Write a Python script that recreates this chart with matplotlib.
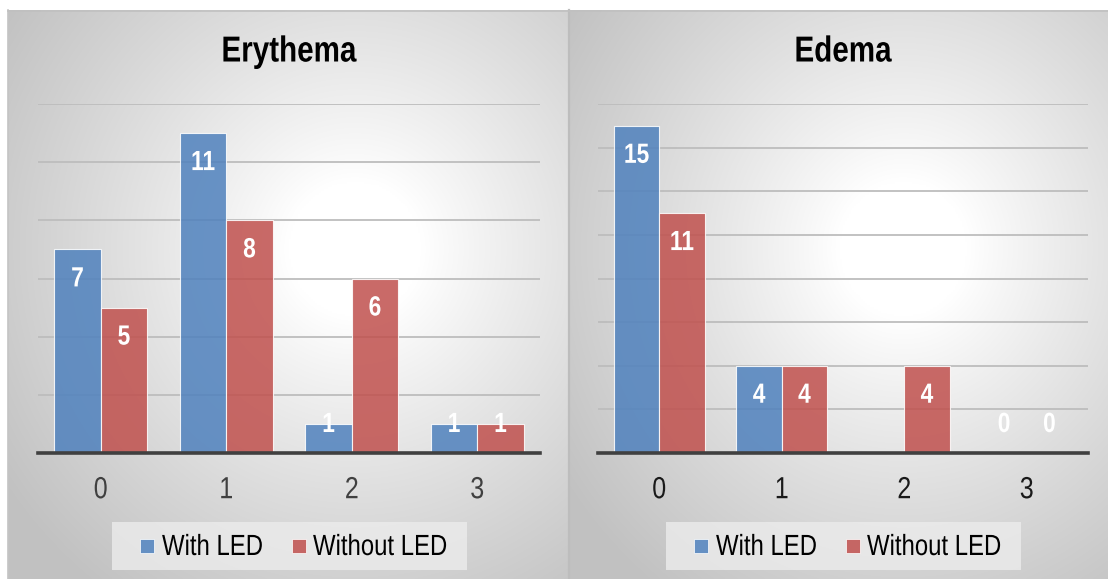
import numpy as np
import matplotlib
matplotlib.use("Agg")
import matplotlib.pyplot as plt
from matplotlib.patches import Rectangle
from matplotlib.patheffects import AbstractPathEffect
from matplotlib.transforms import Affine2D

# ---- data -------------------------------------------------------------
categories = ["0", "1", "2", "3"]
series_names = ["With LED", "Without LED"]

erythema_with = [7, 11, 1, 1]
erythema_without = [5, 8, 6, 1]

edema_with = [15, 4, None, 0]
edema_without = [11, 4, 4, 0]

erythema_ymax = 12
edema_ymax = 16

# ---- style ------------------------------------------------------------
plt.rcParams["font.family"] = ["Liberation Sans", "DejaVu Sans"]

BLUE = "#4F81BD"
RED = "#C0504D"
ALPHA = 0.85
W, H = 1108, 579
fig = plt.figure(figsize=(W / 100, H / 100), dpi=100)
fig.patch.set_facecolor("white")


class Condense(AbstractPathEffect):
    """Squeeze glyphs horizontally to get a narrow typeface look."""

    def __init__(self, text, sx=0.82, anchor="center"):
        super().__init__()
        self.text = text
        self.sx = sx
        self.anchor = anchor

    def draw_path(self, renderer, gc, tpath, affine, rgbFace=None):
        bb = self.text.get_window_extent(renderer)
        ax0 = bb.x0 if self.anchor == "left" else (bb.x0 + bb.x1) / 2
        aff = affine + Affine2D().translate(-ax0, 0).scale(self.sx, 1).translate(ax0, 0)
        renderer.draw_path(gc, tpath, aff, rgbFace)


def narrow(t, anchor="center"):
    t.set_path_effects([Condense(t, anchor=anchor)])
    return t


def fx(px):
    return px / W


def fy(py):
    return 1 - py / H


def panel_background(x0, x1, y0, y1):
    bg = fig.add_axes([fx(x0), fy(y1), fx(x1 - x0), (y1 - y0) / H], zorder=-5)
    nx, ny = 300, 300
    xs = np.linspace(0, 1, nx)
    ys = np.linspace(0, 1, ny)
    X, Y = np.meshgrid(xs, ys)
    cx, cy = 0.62, 0.42
    d = np.sqrt((X - cx) ** 2 + (Y - cy) ** 2)
    t = np.clip((d - 0.12) / (0.75 - 0.12), 0, 1)
    v = 1 - 0.24 * t ** 0.9
    img = np.dstack([v, v, v])
    bg.imshow(img, aspect="auto", extent=(0, 1, 1, 0), interpolation="bilinear")
    bg.set_xlim(0, 1)
    bg.set_ylim(1, 0)
    bg.axis("off")
    return bg


panel_background(8, 568, 10, 579)
panel_background(570, 1108, 10, 579)

# panel borders / divider
fig.add_artist(plt.Line2D([fx(8), fx(8)], [fy(10), fy(579)], color="#c4c4c4", lw=1.2))
fig.add_artist(plt.Line2D([fx(569), fx(569)], [fy(10), fy(579)], color="#bdbdbd", lw=1.6))
fig.add_artist(plt.Line2D([fx(8), fx(1108)], [fy(10.5), fy(10.5)], color="#c0c0c0", lw=1.2))


def draw_legend(cx, cy):
    fig.add_artist(Rectangle((fx(cx - 177.5), fy(cy + 24)), fx(355), 48 / H,
                             transform=fig.transFigure, facecolor="#ececec",
                             edgecolor="none", alpha=0.8, zorder=2))
    items = [(BLUE, series_names[0], -149.5, -127), (RED, series_names[1], 2.5, 24)]
    for color, label, sq, tx in items:
        fig.add_artist(Rectangle((fx(cx + sq), fy(cy + 7)), fx(14), 14 / H,
                                 transform=fig.transFigure, facecolor=color, alpha=ALPHA,
                                 edgecolor="white", lw=0.6, zorder=3))
        t = fig.text(fx(cx + tx), fy(cy + 1), label, ha="left", va="center",
                     fontsize=21, color="black", zorder=4)
        narrow(t, anchor="left")


def draw_panel(ax_px, title, with_vals, without_vals, ymax, step, tick_color):
    x0, x1 = ax_px
    ax = fig.add_axes([fx(x0), fy(453), fx(x1 - x0), (453 - 104) / H])
    ax.set_facecolor("none")
    x = np.arange(len(categories))
    bw = 0.37
    ax.set_xlim(-0.5, len(categories) - 0.5)
    ax.set_ylim(0, ymax)
    for y in np.arange(step, ymax + 0.01, step):
        ax.axhline(y, color="#bdbdbd", lw=1.3, zorder=1)
    ax.axhline(0, color="#404040", lw=2.6, zorder=4, clip_on=False)

    ppu = ax.bbox.height / ymax  # pixels per data unit
    for vals, color, off in ((with_vals, BLUE, -bw / 2), (without_vals, RED, bw / 2)):
        for xi, v in zip(x, vals):
            if v is None:
                continue
            ax.bar(xi + off, v, width=bw, color=color, alpha=ALPHA,
                   edgecolor="white", linewidth=0.8, zorder=3)
            h = v * ppu
            if h - 30 > 28:
                ypos, dy = v, -30
            else:
                ypos, dy = 0, 28
            a = ax.annotate(str(v), (xi + off, ypos), xytext=(0, dy * 0.72),
                            textcoords="offset points", ha="center", va="center",
                            color="white", fontsize=20, fontweight="bold", zorder=5)
            narrow(a)

    ax.set_xticks(x)
    ax.set_xticklabels(categories, fontsize=22, color=tick_color)
    ax.tick_params(axis="x", length=0, pad=16)
    for t in ax.get_xticklabels():
        narrow(t)
    ax.set_yticks([])
    for s in ax.spines.values():
        s.set_visible(False)

    cx = (x0 + x1) / 2
    tt = fig.text(fx(cx), fy(52), title, ha="center", va="center",
                  fontsize=26, fontweight="bold", color="black")
    narrow(tt)
    draw_legend(cx, 546)
    return ax


draw_panel((38, 540), "Erythema", erythema_with, erythema_without, erythema_ymax, 2, "#404040")
draw_panel((598, 1088), "Edema", edema_with, edema_without, edema_ymax, 2, "#1a1a1a")

fig.savefig("out.png", dpi=100, facecolor="white")
